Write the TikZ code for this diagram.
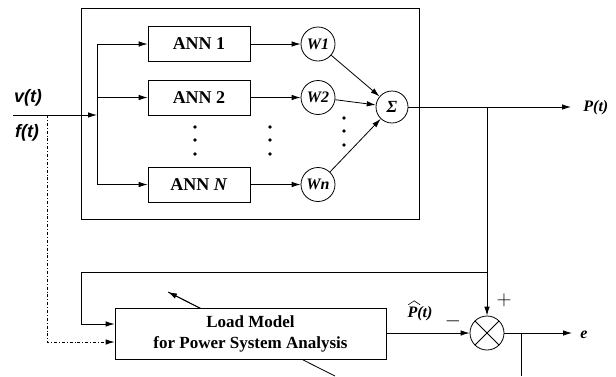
\documentclass[tikz,border=0pt]{standalone}
\usepackage{fontspec}
\setmainfont{Liberation Serif}
\setsansfont{Liberation Sans}
\usetikzlibrary{positioning,arrows.meta,calc}
\tikzset{
  annbox/.style={draw,fill=white,minimum width=102pt,minimum height=35pt,
    inner sep=0pt,font=\fontsize{18}{21}\selectfont\bfseries},
  wcircle/.style={draw,circle,minimum size=34pt,inner sep=0pt,
    font=\fontsize{16}{19}\selectfont\bfseries\itshape},
  arr/.style={-{Latex[length=9pt,width=5.5pt]}},
  sig/.style={font=\fontsize{16}{19}\selectfont\bfseries\itshape},
  insig/.style={font=\fontsize{18}{21}\selectfont\sffamily\bfseries\itshape},
  dot/.style={circle,fill,inner sep=0pt,minimum size=3.8pt},
}
\begin{document}
\begin{tikzpicture}[x=1pt,y=-1pt,line width=.8pt]
  \useasboundingbox (0,0) rectangle (616,376);
  % neural network block
  \draw (81,8) rectangle (419,219);
  \node[annbox] (ann1) at (199,44) {ANN 1};
  \node[annbox] (ann2) at (199,97.5) {ANN 2};
  \node[annbox] (annN) at (199,184.5) {ANN \textit{N}};
  \node[wcircle] (w1) at (318,44) {W1};
  \node[wcircle] (w2) at (318,97.5) {W2};
  \node[wcircle] (wn) at (318,184.5) {Wn};
  \node[wcircle,minimum size=32pt,font=\fontsize{17}{19}\selectfont\bfseries\itshape]
    (sum) at (392,107) {Σ};
  \foreach \yy in {127,140,154} {
    \node[dot] at (195,\yy) {};
    \node[dot] at (270,\yy) {};
  }
  \foreach \yy in {118,131,145}
    \node[dot] at (344,\yy) {};
  \draw[arr] (ann1) -- (w1);
  \draw[arr] (ann2) -- (w2);
  \draw[arr] (annN) -- (wn);
  \draw[arr] (w1) -- (sum);
  \draw[arr] (w2) -- (sum);
  \draw[arr] (wn) -- (sum);
  % inputs
  \coordinate (in) at (13,115);
  \coordinate (split) at (97,115);
  \coordinate (fdown) at (47,115);
  \draw[arr] (in) -- (split);
  \draw[arr] (split) |- (ann1);
  \draw[arr] (split) |- (ann2);
  \draw[arr] (split) |- (annN);
  \node[insig] (vt) at (28,98) {v(t)};
  \node[insig] (ft) at (27,133) {f(t)};
  % output
  \coordinate (pend) at (571,107);
  \coordinate (tap) at (487,107);
  \draw[arr] (sum) -- (pend);
  \node[sig,anchor=west,inner sep=1pt] (pt) at (582,108) {P(t)};
  % load model
  \draw (335,376) -- (168,292) coordinate (adjtip);
  \draw[arr] ($(335,376)!.8!(168,292)$) -- (adjtip);
  \node[draw,fill=white,minimum width=271pt,minimum height=51pt,
    align=center,font=\fontsize{17}{21}\selectfont\bfseries]
    (load) at (250.5,333.5) {Load Model\\for Power System Analysis};
  \node[draw,circle,minimum size=34pt,inner sep=0pt] (cmp) at (487,333) {};
  \draw ($(cmp.center)+(-12,-12)$) -- ($(cmp.center)+(12,12)$);
  \draw ($(cmp.center)+(-12,12)$) -- ($(cmp.center)+(12,-12)$);
  \draw[arr] (tap) -- (cmp);
  \draw[arr] (tap |- 0,272) -| (81,324) -- (load.west |- 0,324);
  \draw[arr,dash dot] (fdown) |- (load.west |- 0,342);
  \draw[arr] (load.east |- cmp) -- (cmp);
  \node[sig,inner sep=0pt] (phat) at (420,314) {P(t)};
  \draw[line width=.6pt] ($(phat.north west)+(1,-1.5)$) -- ++(6,-4) -- ++(6,4);
  \node[font=\fontsize{20}{20}\selectfont,inner sep=0pt] (minus) at (453,321) {$-$};
  \node[font=\fontsize{20}{20}\selectfont,inner sep=0pt] (plus) at (504,300) {$+$};
  \coordinate (eend) at (572,333);
  \draw[arr] (cmp) -- (eend);
  \node[sig,anchor=west,inner sep=1pt] (e) at (579,335) {e};
  \draw (521,333) -- (521,376);
\end{tikzpicture}
\end{document}
